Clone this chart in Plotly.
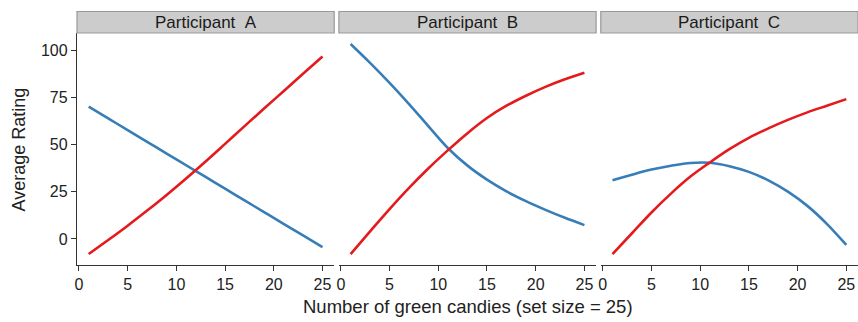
import plotly.graph_objects as go

# Fitted curves per participant, sampled at odd numbers of green candies
x_vals = [1, 3, 5, 7, 9, 11, 13, 15, 17, 19, 21, 23, 25]

participants = ["Participant\u00a0\u00a0A", "Participant\u00a0\u00a0B", "Participant\u00a0\u00a0C"]

red_a = [-8, -0.6, 7, 15, 23.3, 32, 41, 50.3, 59.7, 69, 78.2, 87.4, 96.6]
blue_a = [70, 63.8, 57.6, 51.4, 45.2, 39, 32.8, 26.6, 20.4, 14.2, 8, 1.9, -4.3]

red_b = [-8, 4, 15.8, 27, 37.4, 47, 56, 64, 70.5, 75.8, 80.5, 84.5, 88]
blue_b = [103.2, 93.2, 82.6, 71.4, 59.6, 48, 38.8, 31.4, 25.2, 20, 15.4, 11.2, 7.3]

red_c = [-8, 3, 14, 24, 33, 40.5, 47.5, 53.5, 58.5, 63, 67, 70.5, 74]
blue_c = [31, 34, 36.7, 38.7, 40.2, 40.3, 38.5, 35.5, 31, 25, 17.5, 8, -3.2]

x_ticks = [0, 5, 10, 15, 20, 25]
y_ticks = [0, 25, 50, 75, 100]

x_title = "Number of green candies (set size = 25)"
y_title = "Average Rating"

RED = "#e41a1c"
BLUE = "#377eb8"
AXIS = "#333333"
FONT = "Liberation Sans, Arial, sans-serif"

W, H = 858, 322
L, R, T, B = 77, 0, 33, 57
plot_w = W - L - R
plot_h = H - T - B
gap = 4.7
panel_w = (plot_w - 2 * gap) / 3

fig = go.Figure()

series = [(red_a, blue_a), (red_b, blue_b), (red_c, blue_c)]
for i, (red, blue) in enumerate(series):
    suffix = "" if i == 0 else str(i + 1)
    for vals, col in ((blue, BLUE), (red, RED)):
        fig.add_trace(go.Scatter(
            x=x_vals, y=vals, mode="lines",
            line=dict(color=col, width=2.6, shape="spline", smoothing=1.0),
            xaxis="x" + suffix, yaxis="y" + suffix,
            showlegend=False, hoverinfo="skip",
        ))

strip_h = 21.5 / plot_h
layout = dict(
    width=W, height=H,
    margin=dict(l=L, r=R, t=T, b=B, pad=0),
    paper_bgcolor="white", plot_bgcolor="white",
    font=dict(family=FONT, color="#222222", size=16),
    shapes=[], annotations=[],
)

for i in range(3):
    suffix = "" if i == 0 else str(i + 1)
    x0 = (i * (panel_w + gap)) / plot_w
    x1 = min((i * (panel_w + gap) + panel_w) / plot_w, 1.0)
    layout["xaxis" + suffix] = dict(
        domain=[x0, x1], range=[-0.2, 26.2],
        tickvals=x_ticks, ticks="outside", ticklen=5, tickwidth=1.2,
        tickcolor=AXIS, showline=True, linecolor=AXIS, linewidth=1.4,
        showgrid=False, zeroline=False, anchor="y" + suffix,
        tickfont=dict(size=16, color="#222222"),
    )
    ydict = dict(
        domain=[0, 1], range=[-13.8, 109],
        showgrid=False, zeroline=False, anchor="x" + suffix,
    )
    if i == 0:
        ydict.update(
            tickvals=y_ticks, ticks="outside", ticklen=5, tickwidth=1.2,
            tickcolor=AXIS, showline=True, linecolor=AXIS, linewidth=1.4,
            tickfont=dict(size=16, color="#222222"),
        )
    else:
        ydict.update(showticklabels=False, showline=False, ticks="",
                     matches="y")
    layout["yaxis" + suffix] = ydict

    # facet strip above each panel
    layout["shapes"].append(dict(
        type="rect", xref="paper", yref="paper",
        x0=x0, x1=x1, y0=1.0, y1=1.0 + strip_h,
        fillcolor="#cccccc", line=dict(color="#999999", width=1.2),
        layer="above",
    ))
    layout["annotations"].append(dict(
        text=participants[i], xref="paper", yref="paper",
        x=(x0 + x1) / 2, y=1.0 + strip_h / 2,
        showarrow=False, xanchor="center", yanchor="middle",
        font=dict(size=17, color="#1a1a1a"),
    ))

layout["annotations"].append(dict(
    text=x_title, xref="paper", yref="paper", x=0.5, y=-(306 - 265) / plot_h,
    xanchor="center", yanchor="middle", showarrow=False,
    font=dict(size=18.5, color="#222222"),
))
layout["annotations"].append(dict(
    text=y_title, xref="paper", yref="paper", x=(18.5 - L) / plot_w, y=0.5,
    xanchor="center", yanchor="middle", textangle=-90, showarrow=False,
    font=dict(size=18, color="#222222"),
))

fig.update_layout(**layout)
fig.write_html("out.html")
